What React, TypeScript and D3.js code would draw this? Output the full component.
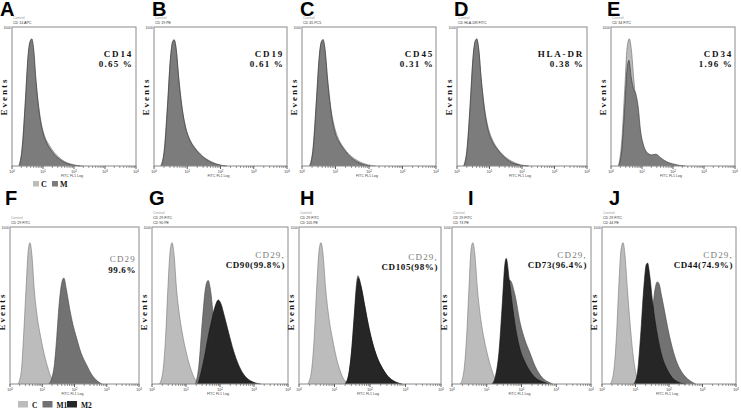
import React from "react";
import * as d3 from "d3";

type Pt = [number, number]; // [log10 channel, events]

// ---- top row (A-E): isotype control vs marker ----
const ctrlA: Pt[] = [[0.22, 0], [0.32, 120], [0.42, 430], [0.5, 720], [0.57, 880], [0.62, 905], [0.68, 850], [0.76, 640], [0.86, 430], [0.96, 290], [1.06, 210], [1.2, 150], [1.35, 100], [1.5, 65], [1.7, 32], [1.9, 14], [2.1, 4], [2.3, 0]];
const markA: Pt[] = [[0.24, 0], [0.34, 150], [0.44, 500], [0.52, 800], [0.59, 900], [0.64, 915], [0.7, 840], [0.78, 600], [0.88, 380], [1.0, 240], [1.12, 165], [1.27, 110], [1.42, 70], [1.6, 38], [1.8, 16], [2.0, 5], [2.2, 0]];

const ctrlB: Pt[] = [[0.2, 0], [0.3, 100], [0.4, 420], [0.48, 730], [0.55, 880], [0.6, 910], [0.66, 860], [0.74, 650], [0.84, 430], [0.95, 280], [1.08, 190], [1.22, 135], [1.38, 90], [1.55, 55], [1.75, 28], [1.95, 10], [2.15, 0]];
const markB: Pt[] = [[0.22, 0], [0.32, 130], [0.42, 480], [0.5, 790], [0.56, 895], [0.61, 905], [0.67, 830], [0.75, 610], [0.86, 390], [0.98, 250], [1.1, 175], [1.25, 120], [1.4, 80], [1.58, 45], [1.78, 20], [1.98, 6], [2.2, 0]];

const ctrlC: Pt[] = [[0.22, 0], [0.32, 110], [0.42, 440], [0.5, 740], [0.57, 885], [0.62, 905], [0.68, 850], [0.76, 640], [0.86, 420], [0.97, 280], [1.1, 190], [1.25, 130], [1.4, 85], [1.58, 50], [1.78, 24], [1.98, 8], [2.2, 0]];
const markC: Pt[] = [[0.24, 0], [0.34, 140], [0.44, 500], [0.52, 800], [0.58, 895], [0.63, 910], [0.69, 830], [0.77, 600], [0.88, 370], [1.0, 230], [1.14, 160], [1.3, 105], [1.46, 62], [1.64, 30], [1.84, 10], [2.05, 0]];

const ctrlD: Pt[] = [[0.2, 0], [0.3, 110], [0.4, 430], [0.48, 740], [0.55, 885], [0.6, 910], [0.66, 850], [0.74, 640], [0.84, 430], [0.95, 285], [1.08, 195], [1.22, 135], [1.38, 88], [1.56, 52], [1.76, 25], [1.96, 8], [2.2, 0]];
const markD: Pt[] = [[0.22, 0], [0.32, 140], [0.42, 490], [0.5, 800], [0.56, 900], [0.61, 915], [0.67, 840], [0.75, 610], [0.86, 380], [0.98, 240], [1.1, 170], [1.26, 115], [1.42, 72], [1.6, 36], [1.8, 14], [2.0, 4], [2.2, 0]];

const ctrlE: Pt[] = [[0.24, 0], [0.34, 160], [0.44, 540], [0.52, 850], [0.59, 915], [0.66, 830], [0.74, 610], [0.84, 390], [0.94, 230], [1.05, 135], [1.2, 85], [1.4, 48], [1.6, 26], [1.8, 10], [2.0, 0]];
const markE: Pt[] = [[0.25, 0], [0.35, 120], [0.45, 450], [0.52, 700], [0.58, 760], [0.65, 640], [0.72, 560], [0.8, 520], [0.88, 420], [0.95, 260], [1.05, 150], [1.15, 100], [1.3, 80], [1.45, 85], [1.6, 60], [1.8, 30], [2.0, 15], [2.2, 5], [2.4, 0]];

// ---- bottom row (F-J): control, CD29 (M1), second marker (M2) ----
const ctrlF: Pt[] = [[0.25, 0], [0.35, 80], [0.42, 300], [0.5, 620], [0.57, 860], [0.62, 900], [0.68, 820], [0.75, 610], [0.85, 420], [0.95, 300], [1.05, 200], [1.15, 120], [1.25, 55], [1.35, 15], [1.45, 0]];
const m1F: Pt[] = [[1.2, 0], [1.3, 40], [1.38, 130], [1.45, 300], [1.52, 500], [1.6, 640], [1.67, 675], [1.75, 600], [1.85, 480], [1.95, 380], [2.07, 290], [2.2, 200], [2.38, 120], [2.55, 55], [2.7, 20], [2.85, 0]];

const ctrlG: Pt[] = [[0.22, 0], [0.32, 80], [0.4, 300], [0.47, 620], [0.54, 860], [0.59, 900], [0.65, 820], [0.72, 610], [0.82, 420], [0.92, 290], [1.02, 190], [1.12, 110], [1.22, 50], [1.32, 12], [1.42, 0]];
const m1G: Pt[] = [[1.28, 0], [1.38, 120], [1.48, 400], [1.58, 620], [1.65, 660], [1.72, 600], [1.8, 450], [1.9, 350], [2.0, 260], [2.15, 150], [2.3, 70], [2.5, 20], [2.7, 0]];
const m2G: Pt[] = [[1.35, 0], [1.45, 80], [1.55, 180], [1.65, 300], [1.75, 400], [1.85, 490], [1.95, 535], [2.03, 510], [2.12, 440], [2.25, 330], [2.4, 210], [2.55, 120], [2.7, 60], [2.9, 20], [3.2, 0]];

const ctrlH: Pt[] = [[0.25, 0], [0.35, 80], [0.43, 300], [0.5, 620], [0.57, 860], [0.62, 900], [0.68, 820], [0.75, 610], [0.85, 410], [0.95, 280], [1.05, 170], [1.15, 90], [1.25, 35], [1.35, 8], [1.45, 0]];
const m1H: Pt[] = [[1.3, 0], [1.4, 60], [1.48, 210], [1.55, 420], [1.62, 640], [1.66, 690], [1.74, 630], [1.85, 500], [1.95, 380], [2.05, 280], [2.2, 170], [2.35, 100], [2.5, 50], [2.7, 15], [2.9, 0]];
const m2H: Pt[] = [[1.3, 0], [1.4, 60], [1.48, 200], [1.55, 400], [1.62, 600], [1.67, 675], [1.75, 620], [1.85, 500], [1.95, 380], [2.05, 280], [2.2, 170], [2.35, 100], [2.5, 50], [2.7, 15], [2.9, 0]];

const ctrlI: Pt[] = [[0.24, 0], [0.34, 80], [0.42, 300], [0.49, 620], [0.55, 860], [0.6, 900], [0.66, 820], [0.73, 610], [0.83, 410], [0.93, 280], [1.03, 180], [1.13, 100], [1.23, 40], [1.33, 10], [1.43, 0]];
const m1I: Pt[] = [[1.2, 0], [1.3, 60], [1.4, 250], [1.5, 580], [1.56, 660], [1.67, 660], [1.81, 570], [1.96, 390], [2.1, 280], [2.24, 200], [2.4, 110], [2.6, 40], [2.8, 10], [2.9, 0]];
const m2I: Pt[] = [[1.15, 0], [1.25, 50], [1.35, 200], [1.45, 520], [1.52, 760], [1.56, 800], [1.65, 660], [1.75, 480], [1.85, 330], [1.96, 220], [2.1, 140], [2.25, 80], [2.4, 40], [2.6, 15], [2.8, 0]];

const ctrlJ: Pt[] = [[0.25, 0], [0.35, 80], [0.43, 300], [0.5, 620], [0.57, 860], [0.63, 900], [0.69, 810], [0.76, 600], [0.84, 380], [0.92, 200], [1.0, 80], [1.08, 20], [1.16, 0]];
const m1J: Pt[] = [[1.2, 0], [1.3, 150], [1.4, 300], [1.5, 450], [1.58, 600], [1.65, 650], [1.7, 640], [1.78, 560], [1.88, 450], [1.98, 340], [2.1, 230], [2.25, 130], [2.4, 70], [2.6, 25], [2.8, 0]];
const m2J: Pt[] = [[0.95, 0], [1.05, 60], [1.15, 300], [1.25, 620], [1.32, 760], [1.36, 770], [1.42, 700], [1.5, 540], [1.6, 380], [1.7, 260], [1.8, 170], [1.95, 90], [2.1, 40], [2.3, 10], [2.5, 0]];

const decades = [0, 1, 2, 3, 4];

const SERIF = "'Liberation Serif', 'DejaVu Serif', serif";
const SANS = "'Liberation Sans', Arial, sans-serif";

const C_CTRL = "#bcbcbc";
const C_MARK = "#7c7c7c";
const C_M1 = "#727272";
const C_M2 = "#262626";

type Series = { data: Pt[]; fill: string; stroke: string };
type Note = { text: string; dy: number; bold: boolean; color: string; ls: number };
type PanelDef = {
  label: string; lx: number; ly: number;
  x: number; y: number; w: number; h: number;
  header: string[]; series: Series[]; notes: Note[]; noteRight: number;
};

const top = (t1: string, t2: string): Note[] => [
  { text: t1, dy: 30, bold: true, color: "#111", ls: 1.8 },
  { text: t2, dy: 40, bold: true, color: "#111", ls: 1.2 },
];
const bot = (t1: string, t2: string, d1 = 31, d2 = 41): Note[] => [
  { text: t1, dy: d1, bold: false, color: "#7a7a7a", ls: 1.2 },
  { text: t2, dy: d2, bold: true, color: "#111", ls: 0.6 },
];
const pair = (c: Pt[], m: Pt[]): Series[] => [
  { data: c, fill: C_CTRL, stroke: "#666" },
  { data: m, fill: C_MARK, stroke: "#333" },
];
const triple = (c: Pt[], m1: Pt[] | null, m2: Pt[] | null): Series[] => {
  const s: Series[] = [{ data: c, fill: C_CTRL, stroke: "#777" }];
  if (m1) s.push({ data: m1, fill: C_M1, stroke: "#444" });
  if (m2) s.push({ data: m2, fill: C_M2, stroke: "#111" });
  return s;
};

const panels: PanelDef[] = [
  { label: "A", lx: 0, ly: 15.5, x: 12, y: 27, w: 124, h: 139, header: ["Control", "CD 14 APC"], series: pair(ctrlA, markA), notes: top("CD14", "0.65 %"), noteRight: 133 },
  { label: "B", lx: 152, ly: 15.5, x: 154, y: 27, w: 133, h: 139, header: ["Control", "CD 19 PE"], series: pair(ctrlB, markB), notes: top("CD19", "0.61 %"), noteRight: 284 },
  { label: "C", lx: 300, ly: 15.5, x: 302, y: 27, w: 134, h: 139, header: ["Control", "CD 45 PC5"], series: pair(ctrlC, markC), notes: top("CD45", "0.31 %"), noteRight: 434 },
  { label: "D", lx: 454, ly: 15.5, x: 457, y: 27, w: 130, h: 139, header: ["Control", "CD HLA-DR FITC"], series: pair(ctrlD, markD), notes: top("HLA-DR", "0.38 %"), noteRight: 584 },
  { label: "E", lx: 607, ly: 15.5, x: 611, y: 27, w: 124, h: 139, header: ["Control", "CD 34 FITC"], series: pair(ctrlE, markE), notes: top("CD34", "1.96 %"), noteRight: 733 },
  { label: "F", lx: 5, ly: 205, x: 10, y: 227, w: 129, h: 157, header: ["Control", "CD 29 FITC"], series: triple(ctrlF, m1F, null), notes: bot("CD29", "99.6%", 35, 46), noteRight: 136 },
  { label: "G", lx: 149, ly: 205, x: 152, y: 227, w: 136, h: 157, header: ["Control", "CD 29 FITC", "CD 90 PE"], series: triple(ctrlG, m1G, m2G), notes: bot("CD29,", "CD90(99.8%)"), noteRight: 285 },
  { label: "H", lx: 300, ly: 205, x: 299, y: 227, w: 142, h: 157, header: ["Control", "CD 29 FITC", "CD 105 PE"], series: triple(ctrlH, m1H, m2H), notes: bot("CD29,", "CD105(98%)", 33, 43), noteRight: 438 },
  { label: "I", lx: 468, ly: 205, x: 452, y: 227, w: 139, h: 157, header: ["Control", "CD 29 FITC", "CD 73 PE"], series: triple(ctrlI, m1I, m2I), notes: bot("CD29,", "CD73(96.4%)"), noteRight: 587 },
  { label: "J", lx: 609, ly: 205, x: 602, y: 227, w: 134, h: 157, header: ["Control", "CD 29 FITC", "CD 44 PE"], series: triple(ctrlJ, m1J, m2J), notes: bot("CD29,", "CD44(74.9%)"), noteRight: 733 },
];

function Panel({ p }: { p: PanelDef }) {
  const x = d3.scaleLinear().domain([0, 4]).range([p.x, p.x + p.w]);
  const y = d3.scaleLinear().domain([0, 1000]).range([p.y + p.h, p.y]);
  const area = d3
    .area<Pt>()
    .x((d) => x(d[0]))
    .y0(y(0))
    .y1((d) => y(d[1]))
    .curve(d3.curveMonotoneX);
  const line = d3
    .line<Pt>()
    .x((d) => x(d[0]))
    .y((d) => y(d[1]))
    .curve(d3.curveMonotoneX);

  const minor: number[] = [];
  for (let d = 0; d < 4; d++) for (let k = 2; k < 10; k++) minor.push(d + Math.log10(k));
  const bottom = p.y + p.h;
  // header lines stacked upward from just above the frame
  const lastY = p.y - 3;
  const firstY = lastY - (p.header.length - 1) * 4.8;

  return (
    <g>
      <text x={p.lx} y={p.ly} fontFamily={SANS} fontWeight="bold" fontSize={20} fill="#000">
        {p.label}
      </text>
      {p.header.map((t, i) => (
        <text key={i} x={p.x + 1} y={firstY + i * 4.8} fontFamily={SANS} fontSize={3.6} fill={i === 0 ? "#9a9a9a" : "#333"}>
          {t}
        </text>
      ))}
      <text x={p.x - 1} y={p.y + 2} textAnchor="end" fontFamily={SANS} fontSize={3.4} fill="#444">
        1000
      </text>
      {p.series.map((s, i) => (
        <g key={i}>
          <path d={area(s.data) ?? ""} fill={s.fill} />
          <path d={line(s.data) ?? ""} fill="none" stroke={s.stroke} strokeWidth={0.6} />
        </g>
      ))}
      <rect x={p.x} y={p.y} width={p.w} height={p.h} fill="none" stroke="#8a8a8a" strokeWidth={1} />
      {minor.map((v, i) => (
        <line key={i} x1={x(v)} x2={x(v)} y1={bottom} y2={bottom + 2} stroke="#555" strokeWidth={0.6} />
      ))}
      {decades.map((d) => (
        <g key={d}>
          <line x1={x(d)} x2={x(d)} y1={bottom} y2={bottom + 3} stroke="#333" strokeWidth={0.8} />
          <text x={x(d)} y={bottom + 7} textAnchor="middle" fontFamily={SANS} fontSize={3.6} fill="#333">
            10
            <tspan dy={-1.5} fontSize={2.8}>{d}</tspan>
          </text>
        </g>
      ))}
      <text x={x(2) - 2} y={bottom + 11} textAnchor="middle" fontFamily={SANS} fontSize={3.6} fill="#444">
        FITC FL1 Log
      </text>
      <text
        transform={`translate(${p.x - 5},${p.y + p.h / 2 + (p.h > 145 ? 6 : 0)}) rotate(-90)`}
        textAnchor="middle"
        fontFamily={SERIF}
        fontWeight="bold"
        fontSize={9}
        letterSpacing={2}
        fill="#111"
      >
        Events
      </text>
      {p.notes.map((n, i) => (
        <text
          key={i}
          x={p.noteRight}
          y={p.y + n.dy}
          textAnchor="end"
          fontFamily={SERIF}
          fontWeight={n.bold ? "bold" : "normal"}
          fontSize={9}
          letterSpacing={n.ls}
          fill={n.color}
        >
          {n.text}
        </text>
      ))}
    </g>
  );
}

const legendTop = [
  { name: "C", color: C_CTRL },
  { name: "M", color: C_MARK },
];
const legendBottom = [
  { name: "C", color: C_CTRL },
  { name: "M1", color: C_M1 },
  { name: "M2", color: C_M2 },
];

export default function App() {
  return (
    <svg width={741} height={409} style={{ position: "absolute", left: 0, top: 0, background: "#fff" }}>
      {panels.map((p) => (
        <Panel key={p.label} p={p} />
      ))}
      {legendTop.map((l, i) => (
        <g key={l.name} transform={`translate(${33 + i * 19},181)`}>
          <rect width={6} height={5.5} fill={l.color} />
          <text x={8} y={5.5} fontFamily={SERIF} fontWeight="bold" fontSize={8} fill="#111">
            {l.name}
          </text>
        </g>
      ))}
      {legendBottom.map((l, i) => (
        <g key={l.name} transform={`translate(${18 + i * 24.5},401)`}>
          <rect width={10} height={6.5} fill={l.color} />
          <text x={14} y={6.5} fontFamily={SERIF} fontWeight="bold" fontSize={7.5} fill="#111">
            {l.name}
          </text>
        </g>
      ))}
    </svg>
  );
}
